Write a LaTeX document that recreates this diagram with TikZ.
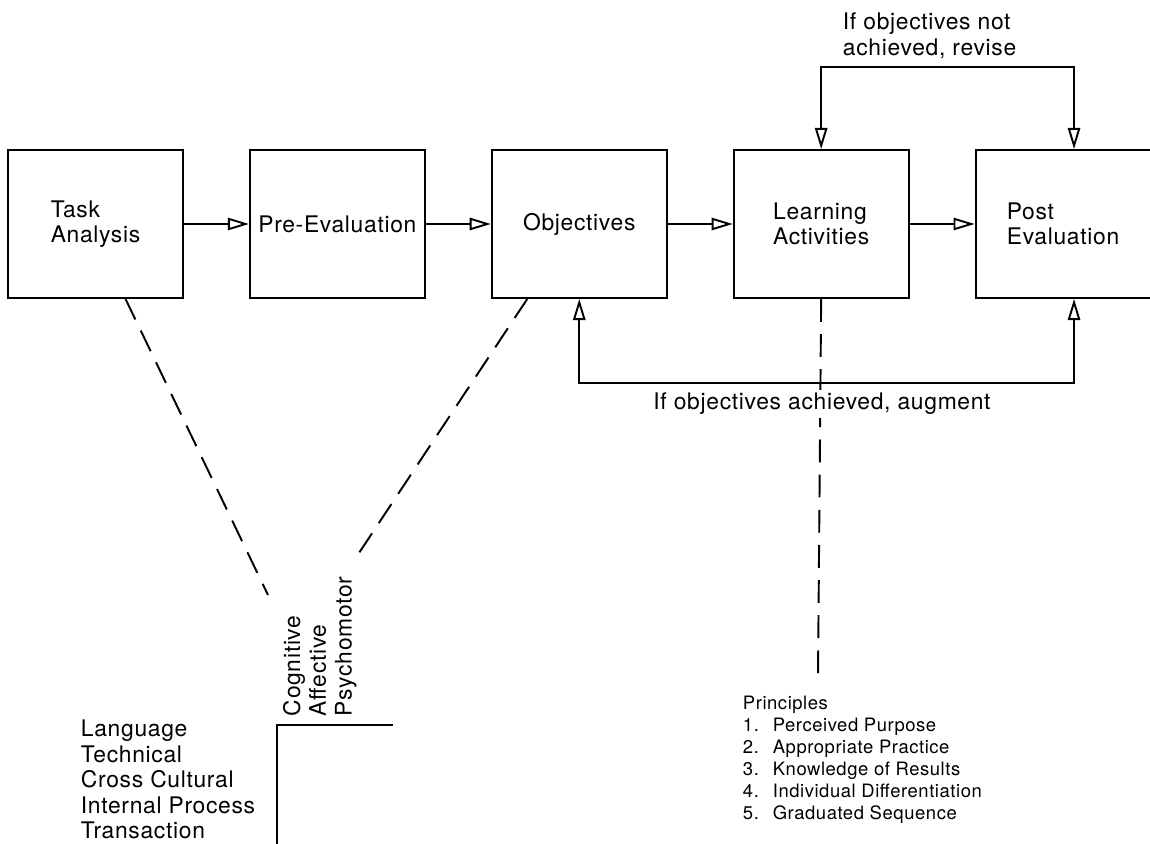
\documentclass[tikz,border=0pt]{standalone}
\usepackage{fontspec}
\setmainfont[LetterSpace=3]{TeX Gyre Heros}
\usetikzlibrary{positioning, calc, arrows.meta}

\begin{document}
\begin{tikzpicture}[x = 0.02cm, y = -0.02cm, node distance = 1.3cm, line width = 1.1pt,
  stage/.style={rectangle, draw, minimum width = 3.5cm, minimum height = 2.96cm, align = left, font = \fontsize{13}{14.5}\selectfont},
  note/.style={inner sep = 0pt, align = left, font = \fontsize{13}{14.5}\selectfont},
  flow/.style={-{Triangle[open, length = 12pt, width = 7pt]}},
  link/.style={dash pattern = on 13pt off 7pt}]
  \useasboundingbox (0,0) rectangle (1150,844);

  % nodes
  \node [stage] (task) at (95.5,224) {Task\\Analysis};
  \node [stage, align = center][right = of task] (pre) {Pre-Evaluation};
  \node [stage, align = center][right = of pre] (obj) {Objectives};
  \node [stage][right = of obj] (learn) {Learning\\Activities};
  \node [stage][right = of learn] (post) {Post\\Evaluation};

  \node [note, anchor = north west] (revise) at (842,12) {If objectives not\\achieved, revise};
  \node [note, anchor = north west] (areas) at (80,719) {Language\\Technical\\Cross Cultural\\Internal Process\\Transaction};
  \node [note, rotate = 90, anchor = north west, font = \fontsize{13}{14.7}\selectfont] (domains) at (282,717) {Cognitive\\Affective\\Psychomotor};
  \node [note, anchor = north west, font = \fontsize{10.5}{12.5}\selectfont] (principles) at (742,695) {Principles\\
    \makebox[17pt][l]{1.}Perceived Purpose\\
    \makebox[17pt][l]{2.}Appropriate Practice\\
    \makebox[17pt][l]{3.}Knowledge of Results\\
    \makebox[17pt][l]{4.}Individual Differentiation\\
    \makebox[17pt][l]{5.}Graduated Sequence};

  \coordinate (tasklink) at (268,595);
  \coordinate (objlink) at (357,556);
  \coordinate (learnlink) at (818,677);
  \coordinate (revtop) at (941,67);
  \coordinate (augbot) at (820,383);

  % dashed links
  \draw [link] ($(task.south)+(30,0)$) -- (tasklink);
  \draw [link] ($(obj.south)+(-52,0)$) -- (objlink);
  \draw [link] (learn.south) -- (learnlink);

  \node [note, fill = white, inner sep = 2pt] (augment) at (822,404) {If objectives achieved, augment};

  % corner
  \draw (277,844) |- (393,725);

  % edges
  \draw [flow] (task) -- (pre);
  \draw [flow] (pre) -- (obj);
  \draw [flow] (obj) -- (learn);
  \draw [flow] (learn) -- (post);

  \draw [flow] (revtop) -| (learn.north);
  \draw [flow] (revtop) -| ($(post.north)+(11,0)$);
  \draw [flow] (augbot) -| (obj.south);
  \draw [flow] (augbot) -| ($(post.south)+(11,0)$);
\end{tikzpicture}
\end{document}
